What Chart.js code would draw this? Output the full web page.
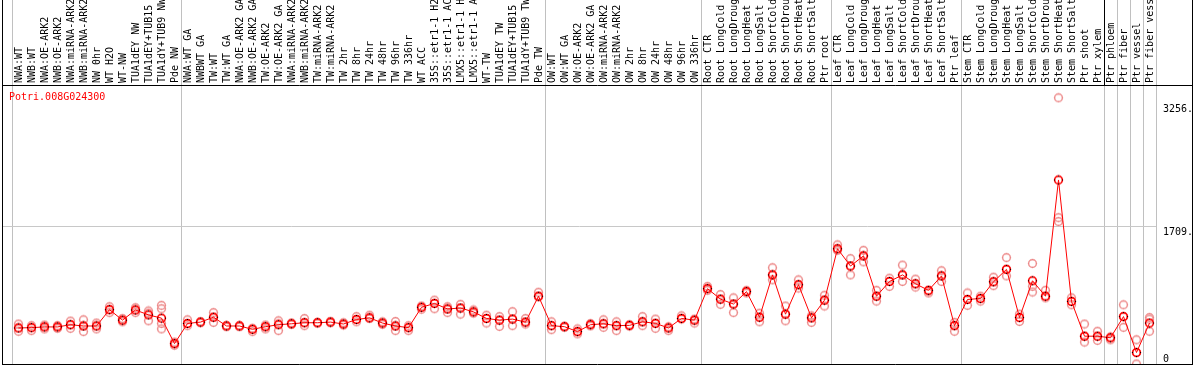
<!DOCTYPE html>
<html>
<head>
<meta charset="utf-8">
<script src="https://cdn.jsdelivr.net/npm/chart.js@4"></script>
<style>
  html, body { margin: 0; padding: 0; background: #fff; }
  #wrap { width: 1194px; height: 370px; position: relative; }
</style>
</head>
<body>
<div id="wrap"><canvas id="chartExp"></canvas></div>
<script>
const geneName = 'Potri.008G024300';

const categories = [
  'NWA:WT', 'NWB:WT', 'NWA:OE-ARK2', 'NWB:OE-ARK2', 'NWA:miRNA-ARK2', 'NWB:miRNA-ARK2', 'NW 0hr', 'WT H2O', 'WT-NW',
  'TUA1dEY NW', 'TUA1dEY+TUB15', 'TUA1dY+TUB9 NW', 'Pde NW',
  'NWA:WT GA', 'NWBWT GA', 'TW:WT', 'TW:WT GA', 'NWA:OE-ARK2 GA', 'NWB:OE-ARK2 GA', 'TW:OE-ARK2', 'TW:OE-ARK2 GA',
  'NWA:miRNA-ARK2', 'NWB:miRNA-ARK2', 'TW:miRNA-ARK2', 'TW:miRNA-ARK2', 'TW 2hr', 'TW 8hr', 'TW 24hr', 'TW 48hr',
  'TW 96hr', 'TW 336hr', 'WT ACC', '35S::etr1-1 H2', '35S::etr1-1 AC', 'LMX5::etr1-1 H', 'LMX5::etr1-1 A', 'WT-TW',
  'TUA1dEY TW', 'TUA1dEY+TUB15', 'TUA1dY+TUB9 TW', 'Pde TW',
  'OW:WT', 'OW:WT GA', 'OW:OE-ARK2', 'OW:OE-ARK2 GA', 'OW:miRNA-ARK2', 'OW:miRNA-ARK2', 'OW 2hr', 'OW 8hr',
  'OW 24hr', 'OW 48hr', 'OW 96hr', 'OW 336hr',
  'Root CTR', 'Root LongCold', 'Root LongDroug', 'Root LongHeat', 'Root LongSalt', 'Root ShortCold', 'Root ShortDrou',
  'Root ShortHeat', 'Root ShortSalt', 'Ptr root',
  'Leaf CTR', 'Leaf LongCold', 'Leaf LongDroug', 'Leaf LongHeat', 'Leaf LongSalt', 'Leaf ShortCold', 'Leaf ShortDrou',
  'Leaf ShortHeat', 'Leaf ShortSalt', 'Ptr leaf',
  'Stem CTR', 'Stem LongCold', 'Stem LongDroug', 'Stem LongHeat', 'Stem LongSalt', 'Stem ShortCold', 'Stem ShortDrou',
  'Stem ShortHeat', 'Stem ShortSalt', 'Ptr shoot', 'Ptr xylem',
  'Ptr phloem', 'Ptr fiber', 'Ptr vessel', 'Ptr fiber vess'
];

// index of first category in each group (separator drawn on its left)
const groupStarts = [0, 13, 41, 53, 63, 73, 84, 85, 86, 87];

const means = [
  424, 428, 437, 437, 465, 449, 449, 655, 523, 651, 589, 548, 226,
  481, 498, 560, 449, 449, 407, 440, 465, 477, 490, 490, 498, 474, 531, 552, 486, 449, 428, 685, 734, 664, 676, 627, 544, 523, 536, 498, 825,
  453, 440, 378, 465, 477, 453, 457, 502, 482, 424, 544, 523,
  920, 788, 726, 883, 560, 1094, 598, 970, 552, 775,
  1424, 1206, 1334, 825, 1011, 1094, 982, 899, 1081, 453,
  784, 796, 1007, 1164, 556, 1020, 825, 2293, 759, 320, 320,
  300, 568, 114, 486
];

const rep1 = [
  474, 453, 461, 453, 511, 527, 486, 692, 543, 680, 639, 710, 246,
  527, 502, 618, 453, 453, 419, 461, 515, 486, 543, 486, 508, 490, 568, 585, 502, 506, 391, 660, 775, 692, 722, 651, 585, 568, 630, 543, 875,
  502, 446, 412, 480, 527, 502, 465, 568, 536, 391, 577, 486,
  949, 846, 804, 899, 610, 1185, 701, 1032, 494, 837,
  1474, 1300, 1404, 899, 1052, 1218, 1040, 866, 1147, 494,
  866, 825, 1065, 1313, 598, 1238, 899, 3331, 804, 474, 382,
  275, 717, 275, 556
];
const rep2 = [
  382, 391, 412, 419, 419, 378, 412, 618, 502, 618, 515, 412, 205,
  453, 490, 494, 440, 440, 378, 412, 391, 469, 453, 494, 490, 461, 502, 543, 469, 391, 453, 701, 667, 618, 598, 610, 486, 444, 453, 474, 816,
  403, 434, 350, 450, 432, 391, 446, 453, 419, 437, 536, 536,
  899, 722, 618, 866, 502, 1032, 515, 928, 577, 701,
  1404, 1094, 1259, 763, 949, 1011, 940, 883, 1011, 382,
  710, 763, 958, 1081, 506, 949, 804, 1817, 717, 246, 267,
  300, 432, -31, 536
];
const rep3 = [
  424, 428, 437, 437, 465, 449, 449, 655, 523, 651, 610, 481, 226,
  481, 498, 560, 453, 449, 416, 440, 477, 477, 490, 490, 498, 474, 531, 552, 486, 449, 428, 685, 734, 664, 676, 627, 544, 523, 536, 498, 825,
  453, 440, 378, 465, 477, 453, 457, 502, 482, 424, 544, 523,
  920, 788, 726, 883, 560, 1094, 598, 970, 552, 775,
  1424, 1206, 1334, 825, 1011, 1094, 982, 899, 1081, 453,
  784, 796, 1007, 1164, 556, 878, 825, 1768, 759, 320, 320,
  310, 568, 114, 382
];
const rep4 = categories.map((c, i) => (i === 11 ? 667 : null));

const yMin = -31;
const yMax = 3492;
const yTicks = [0, 1709, 3256];
const gridValue = 1709;

function makeMarker(ring, tick) {
  const c = document.createElement('canvas');
  c.width = 11; c.height = 11;
  const g = c.getContext('2d');
  g.strokeStyle = ring;
  g.lineWidth = 1.6;
  g.beginPath();
  g.arc(5.5, 5.5, 3.9, 0, Math.PI * 2);
  g.stroke();
  g.fillStyle = tick;
  g.fillRect(5, 1, 1, 1);
  g.fillRect(5, 9, 1, 1);
  g.fillRect(1, 5, 1, 1);
  g.fillRect(9, 5, 1, 1);
  return c;
}
const meanMarker = makeMarker('#ff0000', '#000000');
const repMarker = makeMarker('#f09a9a', '#e88888');

const MONO = 'DejaVu Sans Mono';

const frame = {
  id: 'frame',
  beforeDatasetsDraw(chart) {
    const { ctx, chartArea: a, scales: { y } } = chart;
    ctx.save();
    ctx.strokeStyle = '#c8c8c8';
    ctx.lineWidth = 1;
    const gy = Math.round(y.getPixelForValue(gridValue)) + 0.5;
    ctx.beginPath();
    ctx.moveTo(3, gy);
    ctx.lineTo(a.right, gy);
    ctx.stroke();
    ctx.restore();
  },
  afterDraw(chart) {
    const { ctx, chartArea: a, scales: { y }, width } = chart;
    ctx.save();
    ctx.strokeStyle = '#000';
    ctx.lineWidth = 1;
    ctx.beginPath();
    ctx.moveTo(2.5, 0); ctx.lineTo(2.5, a.bottom + 0.5);
    ctx.moveTo(width - 1.5, 0); ctx.lineTo(width - 1.5, a.bottom + 0.5);
    ctx.moveTo(2, a.top + 0.5); ctx.lineTo(width - 1, a.top + 0.5);
    ctx.moveTo(2, a.bottom + 0.5); ctx.lineTo(width - 1, a.bottom + 0.5);
    ctx.stroke();

    ctx.font = '10px "' + MONO + '"';
    ctx.fillStyle = '#ff0000';
    ctx.textBaseline = 'middle';
    ctx.textAlign = 'left';
    ctx.fillText(geneName, 9, a.top + 12);

    ctx.fillStyle = '#000';
    ctx.textBaseline = 'top';
    y.ticks.forEach(t => {
      const py = Math.min(y.getPixelForValue(t.value) + 1, a.bottom - 10);
      const txt = t.value === 0 ? '0' : t.value + '.';
      ctx.fillText(txt, a.right + 7, py);
    });
    ctx.restore();
  }
};

const repSet = (data) => ({
  data: data,
  showLine: false,
  pointStyle: repMarker,
  pointRadius: 5,
  borderColor: '#f09a9a',
  backgroundColor: '#f09a9a'
});

new Chart(document.getElementById('chartExp'), {
  type: 'line',
  data: {
    labels: categories,
    datasets: [
      {
        data: means,
        borderColor: '#ff0000',
        borderWidth: 1,
        pointStyle: meanMarker,
        pointRadius: 5,
        tension: 0
      },
      repSet(rep1), repSet(rep2), repSet(rep3), repSet(rep4)
    ]
  },
  options: {
    responsive: true,
    maintainAspectRatio: false,
    animation: false,
    events: [],
    layout: { padding: { left: 12, right: 0, top: 0, bottom: 1 } },
    plugins: { legend: { display: false }, tooltip: { enabled: false } },
    scales: {
      x: {
        position: 'top',
        offset: true,
        border: { display: false },
        grid: {
          offset: true,
          lineWidth: 1,
          tickLength: 85,
          color: c => (c.index === undefined || groupStarts.includes(c.index)) ? '#c0c0c0' : 'rgba(0,0,0,0)',
          tickColor: c => (c.index === 84 ? '#000' : (c.index === undefined || groupStarts.includes(c.index)) ? '#c0c0c0' : 'rgba(0,0,0,0)')
        },
        ticks: {
          autoSkip: false,
          minRotation: 90,
          maxRotation: 90,
          padding: -83,
          labelOffset: 12.5,
          color: '#000',
          font: { family: MONO, size: 10 }
        },
        afterFit: s => { s.height = 85; }
      },
      y: {
        position: 'right',
        min: yMin,
        max: yMax,
        border: { display: false },
        grid: { display: false },
        ticks: { display: false },
        afterBuildTicks: s => { s.ticks = yTicks.map(v => ({ value: v })); },
        afterFit: s => { s.width = 38; }
      }
    }
  },
  plugins: [frame]
});
</script>
</body>
</html>
